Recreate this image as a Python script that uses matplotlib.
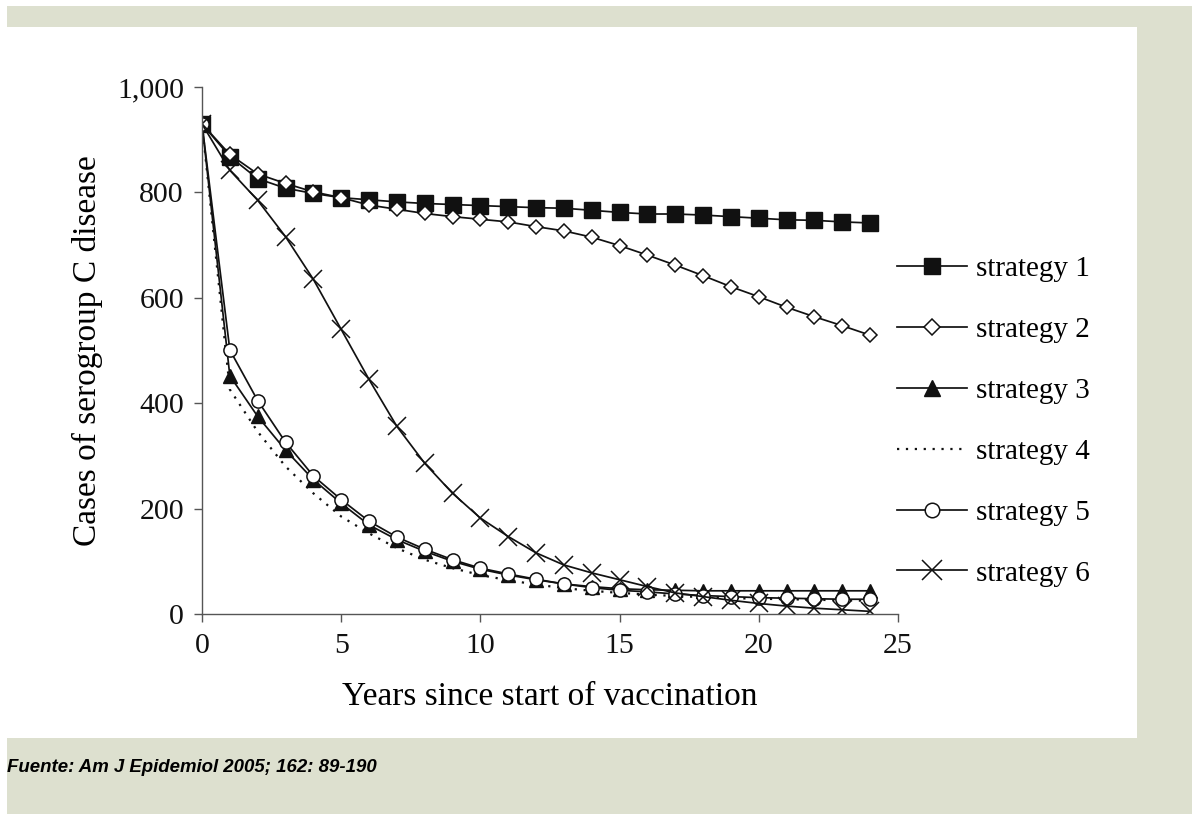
"""
plot.py: serogroup C disease cases under six vaccination strategies.

Redraws the figure (Am J Epidemiol 2005) with its grey-green frame and caption.
Run:  python3 plot.py   -> out.png
"""
import matplotlib
matplotlib.use("Agg")
import matplotlib.pyplot as plt
from matplotlib.patches import Rectangle
from matplotlib.ticker import FuncFormatter

W, H = 1192, 814
INK, SPINE, FRAME = "#111111", "#555555", "#DDE0CF"

years = list(range(25))
strategy_1 = [930, 868, 826, 808, 798, 790, 786, 782, 779, 777, 775, 773, 771,
              770, 766, 762, 759, 759, 757, 754, 751, 748, 747, 744, 742]
strategy_2 = [930, 872, 835, 817, 801, 790, 776, 768, 760, 754, 749, 744, 735,
              727, 715, 699, 681, 662, 642, 621, 602, 582, 564, 547, 529]
strategy_3 = [930, 452, 375, 311, 255, 210, 169, 141, 119, 100, 85, 74, 65,
              57, 52, 48, 46, 45, 44, 44, 44, 44, 44, 44, 44]
strategy_4 = [930, 426, 346, 280, 229, 185, 153, 125, 103, 87, 74, 64, 56,
              49, 44, 40, 37, 34, 32, 30, 29, 28, 27, 26, 25]
strategy_5 = [930, 501, 405, 326, 262, 217, 176, 146, 123, 103, 87, 76, 66,
              57, 50, 45, 42, 38, 35, 33, 31, 30, 29, 28, 28]
strategy_6 = [930, 842, 785, 716, 635, 540, 445, 356, 286, 229, 182, 147, 116,
              93, 78, 65, 52, 40, 33, 26, 20, 15, 11, 8, 5]

labels = ["strategy 1", "strategy 2", "strategy 3",
          "strategy 4", "strategy 5", "strategy 6"]
x_ticks = [0, 5, 10, 15, 20, 25]
y_ticks = [0, 200, 400, 600, 800, 1000]

CAPTION = "Fuente: Am J Epidemiol 2005; 162: 89-190"


def px_rect(x0, y0, x1, y1, color):
    # pixel box (top-left origin) -> figure-fraction rectangle
    return Rectangle((x0 / W, 1 - y1 / H), (x1 - x0) / W, (y1 - y0) / H,
                     transform=plt.gcf().transFigure, facecolor=color,
                     edgecolor="none", zorder=-10)


def main():
    plt.rcParams.update({
        "font.family": ["Liberation Serif", "DejaVu Serif"],
        "font.size": 21,
        "axes.linewidth": 1.0,
    })
    fig = plt.figure(figsize=(W / 100, H / 100), dpi=100, facecolor="white")
    fig.patches.append(px_rect(7, 6, W, H, FRAME))
    fig.patches.append(px_rect(7, 27, 1137, 738, "white"))

    ax = fig.add_axes([202 / W, 1 - 614 / H, (898 - 202) / W, (614 - 87) / H])
    ax.set_facecolor("none")

    common = dict(color=INK, lw=1.25)
    ax.plot(years, strategy_1, marker="s", ms=11, mfc=INK, mec=INK,
            label=labels[0], **common)
    ax.plot(years, strategy_2, marker="D", ms=7.3, mfc="white", mec=INK,
            mew=1.1, label=labels[1], **common)
    ax.plot(years, strategy_3, marker="^", ms=10.5, mfc=INK, mec=INK,
            label=labels[2], **common)
    ax.plot(years, strategy_4, ls=(0, (1, 3)), color=INK, lw=1.6,
            label=labels[3])
    ax.plot(years, strategy_5, marker="o", ms=9.5, mfc="white", mec=INK,
            mew=1.1, label=labels[4], **common)
    ax.plot(years, strategy_6, marker="x", ms=13, mec=INK, mew=1.1,
            label=labels[5], **common)

    ax.set_xlim(0, 25)
    ax.set_ylim(0, 1000)
    ax.set_xticks(x_ticks)
    ax.set_yticks(y_ticks)
    ax.yaxis.set_major_formatter(FuncFormatter(lambda v, _: f"{v:,.0f}"))
    for side in ("top", "right"):
        ax.spines[side].set_visible(False)
    for side in ("left", "bottom"):
        ax.spines[side].set_color(SPINE)
    ax.tick_params(axis="both", direction="out", length=6, width=1.0,
                   color=SPINE, labelcolor=INK, labelsize=21.5)
    ax.tick_params(axis="y", pad=7)
    ax.tick_params(axis="x", pad=8)
    ax.set_xlabel("Years since start of vaccination", fontsize=24, labelpad=16)
    ax.set_ylabel("Cases of serogroup C disease", fontsize=24, labelpad=10)

    ax.legend(loc="upper left", bbox_to_anchor=(897 / W, 1 - 256 / H),
              bbox_transform=fig.transFigure, frameon=False, borderpad=0,
              borderaxespad=0, handlelength=2.4, handletextpad=0.3,
              labelspacing=1.18, fontsize=21, markerscale=1.1)

    fig.text(7 / W, 1 - 767 / H, CAPTION, family="Liberation Sans",
             fontsize=13.4, fontweight="bold", style="italic", va="center",
             ha="left", color="black")

    fig.savefig("out.png", dpi=100)
    plt.close(fig)


if __name__ == "__main__":
    main()
